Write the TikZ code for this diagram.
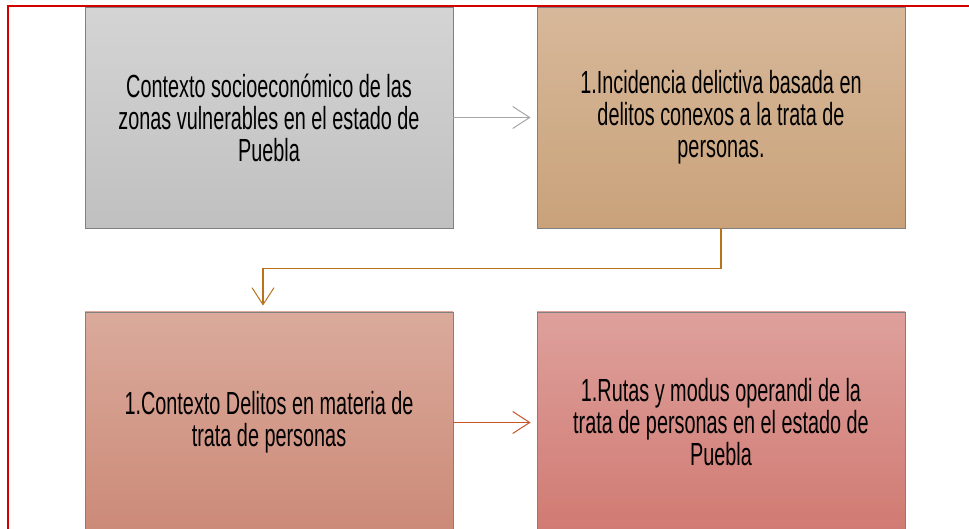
\documentclass[tikz,border=0pt]{standalone}
\usepackage{fontspec}
\setmainfont{Liberation Sans}[FakeStretch=0.62]
\usetikzlibrary{arrows.meta}
\definecolor{frame}{RGB}{212,0,0}
\definecolor{linkgray}{RGB}{166,166,166}
\definecolor{linkbrown}{RGB}{184,115,31}
\definecolor{linkred}{RGB}{200,85,40}
\tikzset{
  stage/.style={draw=gray, line width=0.8pt, minimum width=368pt, minimum height=221pt,
    align=center, font=\fontsize{32}{32}\selectfont, text=black},
  link/.style={line width=1.1pt, shorten >=6pt, -{Straight Barb[length=17pt,width=22pt,line width=1pt]}}
}
\begin{document}
\begin{tikzpicture}[x=1pt,y=-1pt]
                    \useasboundingbox (0,0) rectangle (969,529);
                    \node[stage, top color={rgb,255:red,212;green,212;blue,212}, bottom color={rgb,255:red,192;green,192;blue,192}] (zonas) at (269,117.5)
                      {Contexto socioeconómico de las\\zonas vulnerables en el estado de\\Puebla};
                    \node[stage, top color={rgb,255:red,215;green,184;blue,154}, bottom color={rgb,255:red,201;green,162;blue,122}] (incidencia) at (721,117.5)
                      {1.Incidencia delictiva basada en\\delitos conexos a la trata de\\personas.};
                    \node[stage, top color={rgb,255:red,218;green,170;blue,155}, bottom color={rgb,255:red,204;green,138;blue,120}] (delitos) at (269,422.5)
                      {1.Contexto Delitos en materia de\\trata de personas};
                    \node[stage, top color={rgb,255:red,222;green,160;blue,156}, bottom color={rgb,255:red,208;green,122;blue,114}] (rutas) at (721,422.5)
                      {1.Rutas y modus operandi de la\\trata de personas en el estado de\\Puebla};
                    \coordinate (drop) at ([xshift=-6pt]delitos.north);
                    \draw[link, linkgray] (zonas) -- (incidencia);
                    \draw[link, linkbrown] (incidencia.south) -- ++(0,40) -| (drop);
                    \draw[link, linkred] (delitos) -- (rutas);
                    \draw[frame, line width=2pt] (969,6) -- (8,6) -- (8,529);
                \end{tikzpicture}
\end{document}
